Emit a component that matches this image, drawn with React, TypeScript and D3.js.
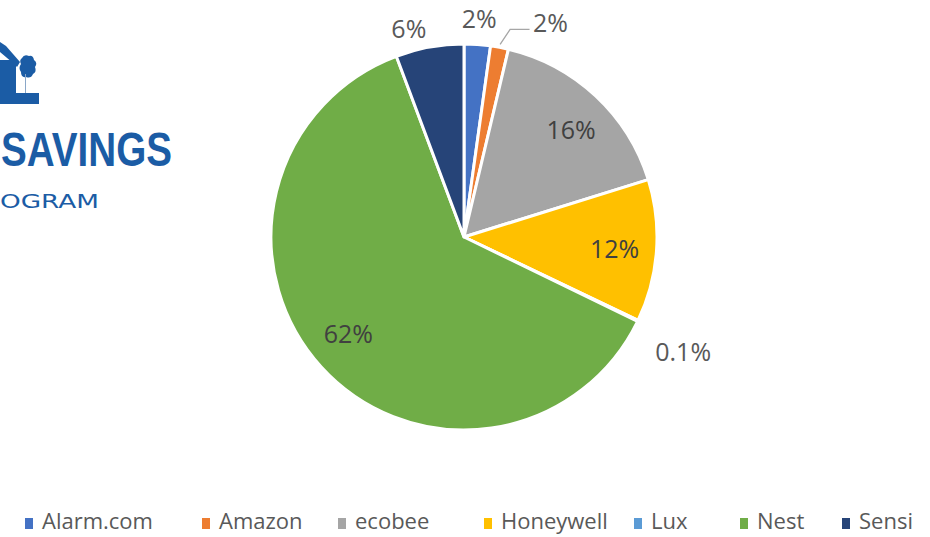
import { useEffect, useRef } from "react"
import * as d3 from "d3"

// brand names and share of installed thermostats (%)
const brands = ["Alarm.com", "Amazon", "ecobee", "Honeywell", "Lux", "Nest", "Sensi"]
const shares = [2.2, 1.5, 16.5, 11.9, 0.1, 62.1, 5.7]
const labels = ["2%", "2%", "16%", "12%", "0.1%", "62%", "6%"]
const colors = ["#4472C4", "#ED7D31", "#A5A5A5", "#FFC000", "#5B9BD5", "#70AD47", "#264478"]

const W = 930
const H = 537
const FONT = "'Open Sans', 'Noto Sans', Arial, sans-serif"

export default function App() {
  const svgRef = useRef<SVGSVGElement>(null)

  useEffect(() => {
    if (!svgRef.current) return
    const svg = d3.select(svgRef.current)
    svg.selectAll("*").remove()

    const cx = 464
    const cy = 237
    const r = 193

    // logo (cropped on the left edge)
    const logo = svg.append("g").attr("fill", "#1b5ca5")
    logo.append("path").attr("d", "M0,42 L6,46 L20,62 L17,67 L13,63 L0,52 Z")
    logo.append("rect").attr("x", 0).attr("y", 60).attr("width", 16).attr("height", 36)
    logo.append("rect").attr("x", 0).attr("y", 93).attr("width", 39).attr("height", 11)
    logo.append("path").attr("d", "M22,58 Q24,54 29,56 Q33,55 34,60 Q38,63 35,67 Q37,72 33,74 Q31,79 26,77 Q21,78 21,72 Q18,68 21,64 Q19,60 22,58 Z")
    logo.append("line").attr("x1", 25.5).attr("x2", 25.5).attr("y1", 74).attr("y2", 93)
      .attr("stroke", "#8aa7c8").attr("stroke-width", 1)
    logo.append("text")
      .attr("x", 1).attr("y", 166)
      .attr("textLength", 171).attr("lengthAdjust", "spacingAndGlyphs")
      .attr("font-family", "'Liberation Sans', Arial, sans-serif")
      .attr("font-weight", "bold").attr("font-size", 48)
      .text("SAVINGS")
    logo.append("text")
      .attr("x", 0).attr("y", 208)
      .attr("textLength", 99).attr("lengthAdjust", "spacingAndGlyphs")
      .attr("font-family", "'DejaVu Sans', sans-serif")
      .attr("font-size", 20)
      .text("OGRAM")

    const pie = d3.pie<number>().sort(null).value((d) => d)
    const arcs = pie(shares)
    const arc = d3.arc<d3.PieArcDatum<number>>().innerRadius(0).outerRadius(r)

    const g = svg.append("g").attr("transform", `translate(${cx},${cy})`)

    g.selectAll("path.slice")
      .data(arcs)
      .enter()
      .append("path")
      .attr("class", "slice")
      .attr("d", arc)
      .attr("fill", (_, i) => colors[i])
      .attr("stroke", "#fff")
      .attr("stroke-width", 3)
      .attr("stroke-linejoin", "round")

    // label placement: big slices inside, small ones outside
    const inner = d3.arc<d3.PieArcDatum<number>>().innerRadius(151).outerRadius(151)
    const outer = d3.arc<d3.PieArcDatum<number>>().innerRadius(220).outerRadius(220)
    const nudge: Record<string, [number, number]> = {
      Amazon: [46, 1],
      ecobee: [4, 2],
      Lux: [21, 18],
      Nest: [-4, -6],
      Sensi: [-16, 7],
    }

    arcs.forEach((a, i) => {
      const isInside = shares[i] > 10
      let [x, y] = isInside ? inner.centroid(a) : outer.centroid(a)
      const n = nudge[brands[i]]
      if (n) {
        x += n[0]
        y += n[1]
      }
      g.append("text")
        .attr("x", x)
        .attr("y", y)
        .attr("text-anchor", "middle")
        .attr("dominant-baseline", "central")
        .attr("font-family", FONT)
        .attr("font-size", 25)
        .attr("fill", isInside ? "#404040" : "#595959")
        .text(labels[i])

      if (brands[i] === "Amazon") {
        const mid = (a.startAngle + a.endAngle) / 2
        const sx = Math.sin(mid) * (r + 3)
        const sy = -Math.cos(mid) * (r + 3)
        g.append("polyline")
          .attr("points", `${sx},${sy} ${sx + 10},${sy - 15} ${x - 21},${sy - 15}`)
          .attr("fill", "none")
          .attr("stroke", "#a6a6a6")
          .attr("stroke-width", 1.3)
      }
    })

    // legend
    const legendX = [25, 202, 338, 484, 634, 740, 842]
    const lg = svg.append("g")
    brands.forEach((b, i) => {
      lg.append("rect")
        .attr("x", legendX[i]).attr("y", 518)
        .attr("width", 8).attr("height", 11)
        .attr("fill", colors[i])
      lg.append("text")
        .attr("x", legendX[i] + 17).attr("y", 529)
        .attr("font-family", FONT)
        .attr("font-size", 22)
        .attr("fill", "#595959")
        .text(b)
    })
  }, [])

  return (
    <div style={{ position: "absolute", left: 0, top: 0, width: W, height: H, background: "#fff" }}>
      <svg ref={svgRef} width={W} height={H} />
    </div>
  )
}
